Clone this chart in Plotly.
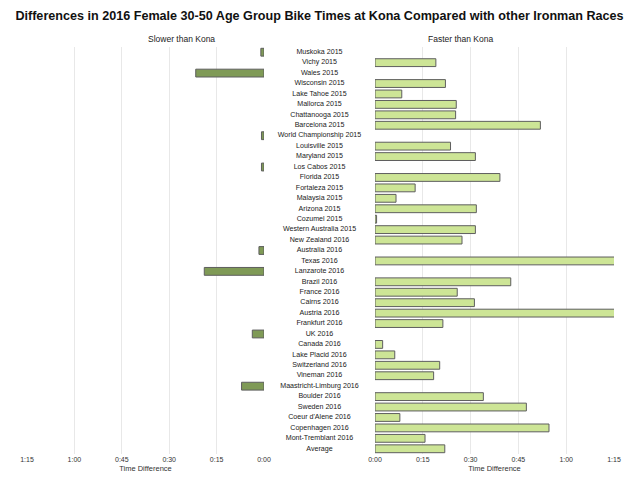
import plotly.graph_objects as go

categories = ["Muskoka 2015", "Vichy 2015", "Wales 2015", "Wisconsin 2015", "Lake Tahoe 2015",
              "Mallorca 2015", "Chattanooga 2015", "Barcelona 2015", "World Championship 2015",
              "Louisville 2015", "Maryland 2015", "Los Cabos 2015", "Florida 2015", "Fortaleza 2015",
              "Malaysia 2015", "Arizona 2015", "Cozumel 2015", "Western Australia 2015",
              "New Zealand 2016", "Australia 2016", "Texas 2016", "Lanzarote 2016", "Brazil 2016",
              "France 2016", "Cairns 2016", "Austria 2016", "Frankfurt 2016", "UK 2016", "Canada 2016",
              "Lake Placid 2016", "Switzerland 2016", "Vineman 2016", "Maastricht-Limburg 2016",
              "Boulder 2016", "Sweden 2016", "Coeur d'Alene 2016", "Copenhagen 2016",
              "Mont-Tremblant 2016", "Average"]

# minutes slower than Kona
slower = [1.0, None, 21.6, None, None, None, None, None, 0.8, None, None, 0.8, None, None,
          None, None, None, None, None, 1.6, None, 18.9, None, None, None, None, None, 3.7,
          None, None, None, None, 7.1, None, None, None, None, None, None]

# minutes faster than Kona
faster = [None, 19.1, None, 22.1, 8.4, 25.5, 25.3, 51.9, None, 23.7, 31.5, None, 39.2, 12.6,
          6.6, 31.8, 0.5, 31.5, 27.3, None, 80.0, None, 42.6, 25.8, 31.2, 78.0, 21.3, None,
          2.4, 6.2, 20.3, 18.4, None, 34.0, 47.5, 7.8, 54.6, 15.7, 21.9]

tick_vals = [0, 15, 30, 45, 60, 75]
tick_text = ["0:00", "0:15", "0:30", "0:45", "1:00", "1:15"]

# page body has an 8px margin: figure origin sits at (8, 8) of the window
OFF = 8
W, H = 640 - OFF, 480 - OFF
T, B = 47 - OFF, 26
FONT = "Liberation Sans"
n = len(categories)


def px(xp):
    return max(0.0, (xp - OFF) / W)


fig = go.Figure()

fig.add_trace(go.Bar(
    y=categories, x=slower, orientation="h", xaxis="x", yaxis="y",
    marker=dict(color="#7f9a56", line=dict(color="#5e5e5e", width=1)),
    width=0.75, showlegend=False, hoverinfo="x+y"))

fig.add_trace(go.Bar(
    y=categories, x=faster, orientation="h", xaxis="x2", yaxis="y2",
    marker=dict(color="#cde596", line=dict(color="#5e5e5e", width=1)),
    width=0.75, showlegend=False, hoverinfo="x+y"))

fig.add_trace(go.Scatter(
    y=categories, x=[0] * n, mode="text", text=categories,
    textposition="middle center",
    textfont=dict(family=FONT, size=7.1, color="#1a1a1a"),
    xaxis="x3", yaxis="y3", showlegend=False, hoverinfo="skip", cliponaxis=False))

axis_common = dict(tickvals=tick_vals, ticktext=tick_text, showgrid=True,
                   gridcolor="#e8e8e8", gridwidth=1, zeroline=False, showline=False,
                   ticks="", automargin=False,
                   tickfont=dict(family=FONT, size=7, color="#333333"),
                   title=dict(text="Time Difference",
                              font=dict(family=FONT, size=7.5, color="#333333"),
                              standoff=3))

yaxis_common = dict(type="category", categoryorder="array", categoryarray=categories,
                    range=[n - 0.5, -0.5], autorange=False, showticklabels=False,
                    showgrid=False, zeroline=False, ticks="", automargin=False)

plot_h = H - T - B
title_y = (H - B - (39 - OFF)) / plot_h

fig.update_layout(
    width=W, height=H,
    margin=dict(l=0, r=0, t=T, b=B, autoexpand=False),
    paper_bgcolor="white", plot_bgcolor="white",
    title=dict(text="<b>Differences in 2016 Female 30-50 Age Group Bike Times at Kona Compared with other Ironman Races</b>",
               x=px(319.5), xanchor="center", xref="paper", y=1 - (16 - OFF) / H, yanchor="middle",
               font=dict(family=FONT, size=12.6, color="#111111")),
    xaxis=dict(domain=[px(27), px(264)], range=[75, 0], anchor="y", **axis_common),
    xaxis2=dict(domain=[px(375), px(614)], range=[0, 75], anchor="y2", **axis_common),
    xaxis3=dict(domain=[px(264), px(375)], range=[-1, 1], visible=False, anchor="y3"),
    yaxis=dict(anchor="x", **yaxis_common),
    yaxis2=dict(anchor="x2", **yaxis_common),
    yaxis3=dict(anchor="x3", **yaxis_common),
    annotations=[
        dict(text="Slower than Kona", x=px((27 + 264) / 2), y=title_y,
             xref="paper", yref="paper", yanchor="middle", showarrow=False,
             font=dict(family=FONT, size=8.5, color="#222222")),
        dict(text="Faster than Kona", x=px((375 + 614) / 2), y=title_y,
             xref="paper", yref="paper", yanchor="middle", showarrow=False,
             font=dict(family=FONT, size=8.5, color="#222222")),
    ],
)

fig.write_html("out.html")
